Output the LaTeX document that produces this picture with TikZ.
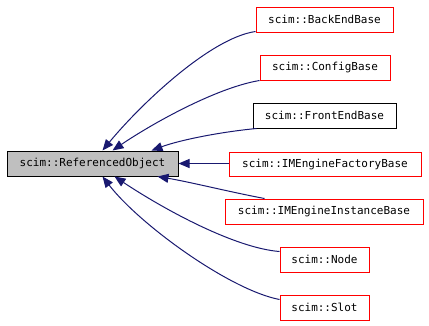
\documentclass[tikz,border=0pt]{standalone}
\usepackage{fontspec}
\setmonofont{DejaVu Sans Mono}
\usetikzlibrary{arrows.meta,calc}
\definecolor{edgeblue}{HTML}{191970}
\definecolor{basegray}{HTML}{BFBFBF}
\begin{document}
\begin{tikzpicture}[x=1pt,y=-1pt,
  cls/.style={draw=red,line width=1pt,fill=white,inner sep=0pt,
    minimum height=25pt,font=\ttfamily\fontsize{11}{13}\selectfont},
  blackcls/.style={cls,draw=black},
  rootcls/.style={cls,draw=black,fill=basegray},
  inherit/.style={draw=edgeblue,line width=1pt,
    {Triangle[length=11pt,width=9pt,fill=edgeblue]}-}]
\useasboundingbox (0,0) rectangle (429,325);

% classes
\node[rootcls,minimum width=171pt] (ro) at (92.5,163.5) {scim::ReferencedObject};
\node[cls,minimum width=137pt] (be) at (324.5,19.5) {scim::BackEndBase};
\node[cls,minimum width=130pt] (cf) at (325,67.5) {scim::ConfigBase};
\node[blackcls,minimum width=143pt] (fe) at (324.5,115.5) {scim::FrontEndBase};
\node[cls,minimum width=192pt,minimum height=24pt] (fa) at (325,164) {scim::IMEngineFactoryBase};
\node[cls,minimum width=198pt] (in) at (324,211.5) {scim::IMEngineInstanceBase};
\node[cls,minimum width=89pt] (nd) at (324.5,259.5) {scim::Node};
\node[cls,minimum width=89pt] (sl) at (324.5,307.5) {scim::Slot};

% inheritance edges
\draw[inherit] ($(ro.north west)+(96,0)$) .. controls (140,105) and (210,38) .. ($(be.south west)+(0,-1)$);
\draw[inherit] ($(ro.north west)+(106,0)$) .. controls (150,125) and (215,88) .. ($(cf.south west)+(0,0)$);
\draw[inherit] ($(ro.north west)+(145,0)$) .. controls (180,140) and (220,132) .. ($(fe.south west)+(4,0)$);
\draw[inherit] (ro.east) -- (ro.east -| fa.west);
\draw[inherit] ($(ro.south west)+(151,0)$) .. controls (190,182) and (230,192) .. ($(in.north west)+(40,0)$);
\draw[inherit] ($(ro.south west)+(108,0)$) .. controls (165,210) and (235,248) .. ($(nd.north west)+(0,5)$);
\draw[inherit] ($(ro.south west)+(96,0)$) .. controls (140,225) and (230,290) .. ($(sl.north west)+(0,5)$);
\end{tikzpicture}
\end{document}
